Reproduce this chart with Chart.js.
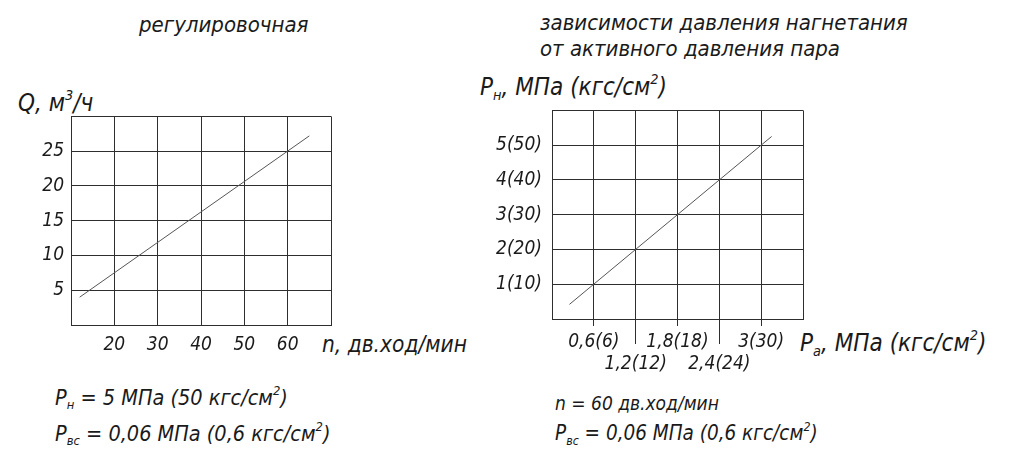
<!DOCTYPE html>
<html>
<head>
<meta charset="utf-8">
<script src="https://cdn.jsdelivr.net/npm/chart.js@4"></script>
<style>
    body { margin: 0; background: #fff; width: 1024px; height: 464px; overflow: hidden; position: relative;
        font-family: 'DejaVu Sans Condensed', 'DejaVu Sans', sans-serif; font-style: italic; color: #1a1a1a; }
    canvas { position: absolute; }
    .txt { position: absolute; white-space: nowrap; line-height: 1; }
    .txt sup { font-size: 60%; vertical-align: 0.75em; }
    .txt sub { font-size: 60%; vertical-align: -0.35em; }
</style>
</head>
<body>
<div class="txt" style="left:139px; top:14px; font-size:22px;">регулировочная</div>
<div class="txt" style="left:540px; top:12px; font-size:22px;">зависимости давления нагнетания</div>
<div class="txt" style="left:540px; top:38px; font-size:22px;">от активного давления пара</div>

<div class="txt" style="left:18px; top:88px; font-size:24px;">Q, м<sup>3</sup>/ч</div>
<div class="txt" style="left:322px; top:333px; font-size:22.5px;">n, дв.ход/мин</div>
<div class="txt" style="left:480px; top:72px; font-size:24px;">P<sub>н</sub>, МПа (кгс/см<sup>2</sup>)</div>
<div class="txt" style="left:800px; top:328px; font-size:24px;">P<sub>а</sub>, МПа (кгс/см<sup>2</sup>)</div>

<div class="txt" style="left:55px; top:385px; font-size:21.5px;">P<sub>н</sub> = 5 МПа (50 кгс/см<sup>2</sup>)</div>
<div class="txt" style="left:55px; top:421px; font-size:21.5px;">P<sub>вс</sub> = 0,06 МПа (0,6 кгс/см<sup>2</sup>)</div>
<div class="txt" style="left:555px; top:394px; font-size:19px;">n = 60 дв.ход/мин</div>
<div class="txt" style="left:555px; top:421px; font-size:20.5px;">P<sub>вс</sub> = 0,06 МПа (0,6 кгс/см<sup>2</sup>)</div>

<canvas id="flowChart" width="340" height="262" style="left:0; top:98px;"></canvas>
<canvas id="pressChart" width="330" height="291" style="left:480px; top:89px;"></canvas>

<script>
// регулировочная характеристика: Q от n
const strokesPerMin = [12, 65];
const flowRate = [4, 27.2];
const nTickLabels = ['20', '30', '40', '50', '60'];
const qTickLabels = ['5', '10', '15', '20', '25'];

// Pн от Pа
const steamPressure = [0.25, 3.15];
const dischargePressure = [0.42, 5.25];
const paTickLabels = ['0,6(6)', '1,2(12)', '1,8(18)', '2,4(24)', '3(30)'];
const pnTickLabels = ['1(10)', '2(20)', '3(30)', '4(40)', '5(50)'];

const FONT = "'DejaVu Sans Condensed', 'DejaVu Sans', sans-serif";
const gridColor = '#2e2e2e';
const textColor = '#1a1a1a';

function points(xs, ys) {
    return xs.map((x, i) => ({x: x, y: ys[i]}))
}

function baseOptions() {
    return {
        responsive: false,
        animation: false,
        plugins: {
            legend: {display: false},
            tooltip: {enabled: false}
        },
        elements: {
            point: {radius: 0, hitRadius: 0},
            line: {borderWidth: 1, borderColor: '#555', tension: 0}
        }
    }
}

const flowOptions = baseOptions();
flowOptions.layout = {padding: {top: 0, right: 8, left: 0, bottom: 0}};
flowOptions.scales = {
    x: {
        type: 'linear', min: 10, max: 70,
        grid: {color: gridColor, lineWidth: 1, drawTicks: false},
        border: {color: gridColor},
        afterFit: (scale) => { scale.height = 35 },
        ticks: {
            stepSize: 10, padding: 9, color: textColor, autoSkip: false, maxRotation: 0,
            font: {family: FONT, size: 19, style: 'italic'},
            callback: function (val, index) {
                return nTickLabels[index - 1] || ''
            }
        }
    },
    y: {
        type: 'linear', min: 0, max: 30,
        grid: {color: gridColor, lineWidth: 1, drawTicks: false},
        border: {color: gridColor},
        afterFit: (scale) => { scale.width = 71 },
        ticks: {
            stepSize: 5, padding: 7, color: textColor, autoSkip: false,
            font: {family: FONT, size: 19, style: 'italic'},
            callback: function (val, index) {
                return qTickLabels[index - 1] || ''
            }
        }
    }
};

new Chart(document.getElementById('flowChart'), {
    type: 'scatter',
    data: {
        datasets: [{data: points(strokesPerMin, flowRate), showLine: true, borderColor: '#555', borderWidth: 1}]
    },
    options: flowOptions
});

const pressOptions = baseOptions();
pressOptions.layout = {padding: {top: 0, right: 7, left: 0, bottom: 0}};
pressOptions.scales = {
    x: {
        type: 'linear', min: 0, max: 3.6,
        grid: {
            color: gridColor, lineWidth: 1, drawTicks: true, tickLength: 25,
            tickColor: (ctx) => (ctx.index === 0 || ctx.index === 6) ? 'rgba(0,0,0,0)' : gridColor,
            tickBorderDash: (ctx) => ctx.index % 2 === 0 ? [] : [6, 100]
        },
        border: {color: gridColor},
        afterFit: (scale) => { scale.height = 61 },
        ticks: {
            stepSize: 0.6, padding: -13, color: textColor,
            autoSkip: false, maxRotation: 0, minRotation: 0,
            font: {family: FONT, size: 19, style: 'italic', lineHeight: 1.15},
            callback: function (val, index) {
                const lbl = paTickLabels[index - 1];
                if (!lbl) return '';
                return index % 2 === 0 ? ['', lbl] : lbl
            }
        }
    },
    y: {
        type: 'linear', min: 0, max: 6,
        grid: {color: gridColor, lineWidth: 1, drawTicks: false},
        border: {color: gridColor},
        afterFit: (scale) => { scale.width = 72 },
        ticks: {
            stepSize: 1, padding: 10, color: textColor, autoSkip: false,
            font: {family: FONT, size: 19, style: 'italic'},
            callback: function (val, index) {
                return pnTickLabels[index - 1] || ''
            }
        }
    }
};

new Chart(document.getElementById('pressChart'), {
    type: 'scatter',
    data: {
        datasets: [{data: points(steamPressure, dischargePressure), showLine: true, borderColor: '#555', borderWidth: 1}]
    },
    options: pressOptions
});
</script>
</body>
</html>
